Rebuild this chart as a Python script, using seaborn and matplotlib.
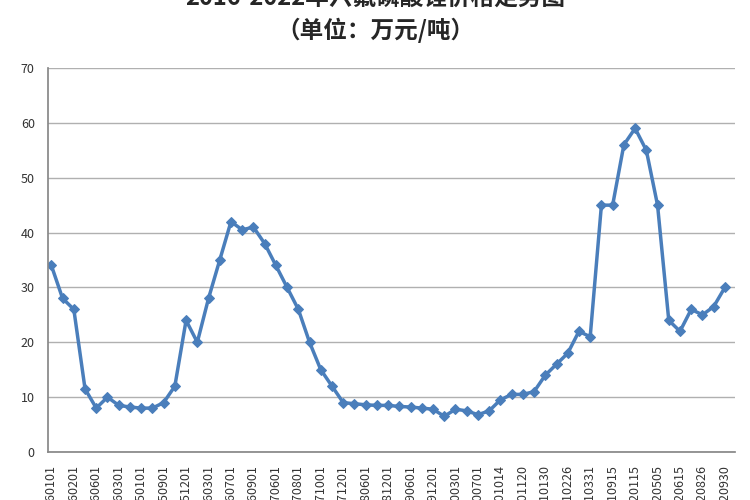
import matplotlib
matplotlib.use("Agg")
import matplotlib.pyplot as plt
import seaborn as sns
import pandas as pd

values = [34, 28, 26, 11.5, 8, 10, 8.5, 8.2, 8, 8, 9, 12, 24, 20, 28, 35, 42, 40.5, 41, 38,
          34, 30, 26, 20, 15, 12, 9, 8.8, 8.6, 8.5, 8.5, 8.3, 8.2, 8, 7.8, 6.5, 7.8, 7.5, 6.8, 7.5,
          9.5, 10.5, 10.5, 11, 14, 16, 18, 22, 21, 45, 45, 56, 59, 55, 45, 24, 22, 26, 25, 26.5, 30]
tick_labels = ["20160101", "20160201", "20160601", "20160301", "20150101", "20150901", "20151201",
               "20160301", "20160701", "20160901", "20170601", "20170801", "20171001", "20171201",
               "20180601", "20181201", "20190601", "20191201", "20200301", "20200701", "20201014",
               "20201120", "20210130", "20210226", "20210331", "20210915", "20220115", "20220505",
               "20220615", "20220826", "20220930"]

sns.set_theme(style="white")
plt.rcParams['font.family'] = ['Noto Sans CJK SC', 'DejaVu Sans']

df = pd.DataFrame({"i": range(len(values)), "v": values})
fig = plt.figure(figsize=(7.5, 5), dpi=100)
ax = fig.add_axes([0.064, 0.096, 0.916, 0.768])
sns.lineplot(data=df, x="i", y="v", ax=ax, color="#4a7ebb", linewidth=2.5,
             marker="D", markersize=5, markeredgecolor="#4a7ebb")
ax.set_xlim(-0.3, len(values) - 0.1)
ax.set_ylim(0, 70)
ax.set_yticks(range(0, 71, 10))
ax.yaxis.grid(True, color="#b0b0b0", linewidth=1)
ax.set_xticks(range(0, len(values), 2))
ax.set_xticklabels(tick_labels[:len(range(0, len(values), 2))], rotation=90, fontsize=9, color="#333")
ax.tick_params(axis="y", labelsize=9, colors="#333")
ax.set_xlabel("")
ax.set_ylabel("")
for s in ["top", "right"]:
    ax.spines[s].set_visible(False)
ax.spines["left"].set_color("#888")
ax.spines["bottom"].set_color("#888")
fig.text(0.5, 1.005, "2016-2022年六氟磷酸锂价格走势图", ha="center", va="center",
         fontsize=17, fontweight="bold")
fig.text(0.5, 0.94, "（单位：万元/吨）", ha="center", va="center", fontsize=17, fontweight="bold")
fig.savefig("out.png")
